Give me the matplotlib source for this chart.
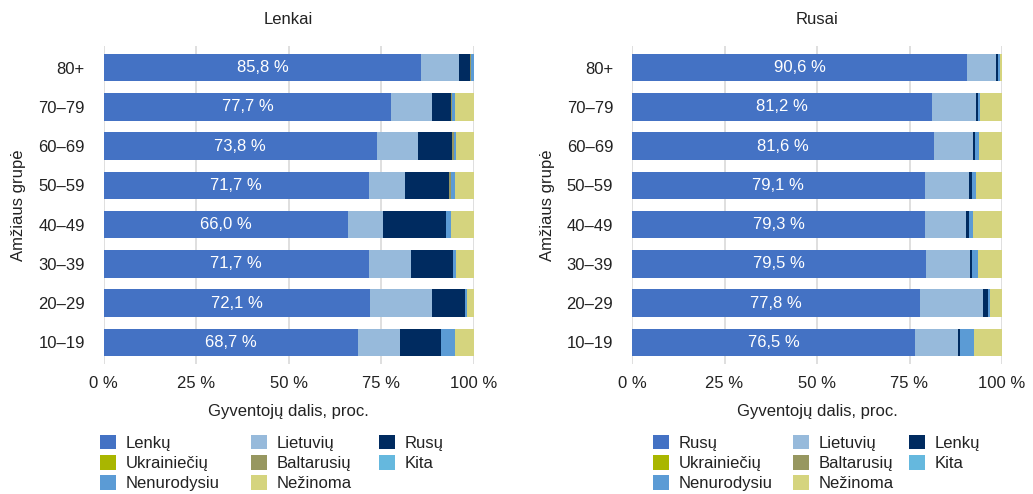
import matplotlib
matplotlib.use("Agg")
import matplotlib.pyplot as plt
from matplotlib.patches import Patch

plt.rcParams['font.family'] = ['Liberation Sans', 'DejaVu Sans']
plt.rcParams['font.size'] = 12
plt.rcParams['text.color'] = '#222222'

# ---------------- data (top row first) ----------------
age_groups = ["80+", "70–79", "60–69", "50–59", "40–49", "30–39", "20–29", "10–19"]

# Panel "Lenkai"
lk_lenku       = [85.8, 77.7, 73.8, 71.7, 66.0, 71.7, 72.1, 68.7]
lk_lietuviu    = [10.2, 11.0, 11.1, 9.7, 9.5, 11.4, 16.6, 11.4]
lk_rusu        = [3.0, 5.2, 9.2, 11.9, 17.0, 11.3, 8.9, 11.1]
lk_ukrainieciu = [0.0, 0.0, 0.0, 0.0, 0.0, 0.0, 0.0, 0.0]
lk_baltarusiu  = [0.3, 0.2, 0.5, 0.6, 0.0, 0.0, 0.0, 0.0]
lk_kita        = [0.0, 0.0, 0.0, 0.0, 0.0, 0.0, 0.0, 0.0]
lk_nenurodysiu = [0.7, 0.8, 0.5, 1.0, 1.4, 0.8, 0.6, 3.7]
lk_nezinoma    = [0.0, 5.1, 4.9, 5.1, 6.1, 4.8, 1.8, 5.1]

# Panel "Rusai"
rs_rusu        = [90.6, 81.2, 81.6, 79.1, 79.3, 79.5, 77.8, 76.5]
rs_lietuviu    = [7.8, 11.8, 10.6, 12.0, 11.0, 11.9, 17.1, 11.6]
rs_lenku       = [0.5, 0.5, 0.5, 0.8, 0.8, 0.5, 1.3, 0.6]
rs_ukrainieciu = [0.0, 0.0, 0.0, 0.0, 0.0, 0.0, 0.0, 0.0]
rs_baltarusiu  = [0.0, 0.0, 0.0, 0.0, 0.0, 0.0, 0.0, 0.0]
rs_kita        = [0.0, 0.0, 0.0, 0.0, 0.0, 0.0, 0.0, 0.0]
rs_nenurodysiu = [0.6, 0.6, 1.1, 1.1, 1.1, 1.6, 0.6, 3.8]
rs_nezinoma    = [0.5, 5.9, 6.2, 7.0, 7.8, 6.5, 3.2, 7.5]

lk_names = ["Lenkų", "Lietuvių", "Rusų", "Ukrainiečių", "Baltarusių", "Kita", "Nenurodysiu", "Nežinoma"]
rs_names = ["Rusų", "Lietuvių", "Lenkų", "Ukrainiečių", "Baltarusių", "Kita", "Nenurodysiu", "Nežinoma"]

x_ticks = [0, 25, 50, 75, 100]
x_tick_labels = ["0 %", "25 %", "50 %", "75 %", "100 %"]

colors = ["#4472C4", "#97BADB", "#002B60", "#A9B600", "#979760",
          "#65B8DE", "#5B9BD5", "#D5D47E"]

W, H = 1033, 494
fig = plt.figure(figsize=(W / 100, H / 100), dpi=100)


def panel(left_px, title, series, names):
    ax = fig.add_axes([left_px / W, 1 - 364 / H, 370 / W, 318 / H])
    ypos = list(range(len(age_groups)))
    cum = [0.0] * len(age_groups)
    handles = []
    for vals, col, name in zip(series, colors, names):
        ax.barh(ypos, vals, left=cum, height=0.7, color=col, linewidth=0, zorder=2)
        handles.append(Patch(facecolor=col, edgecolor='none', label=name))
        cum = [c + v for c, v in zip(cum, vals)]
    for y, v in zip(ypos, series[0]):
        ax.text(v / 2, y, f"{v:.1f} %".replace(".", ","), ha='center', va='center',
                color='white', fontsize=12, zorder=3)
    ax.set_xlim(0, 100)
    ax.set_ylim(len(age_groups) - 0.45, -0.55)
    ax.set_yticks(ypos)
    ax.set_yticklabels(age_groups)
    ax.set_xticks(x_ticks)
    ax.set_xticklabels(x_tick_labels)
    ax.tick_params(axis='y', length=0, pad=13.5, labelsize=12, labelcolor='#222222')
    ax.tick_params(axis='x', length=0, pad=8.5, labelsize=12, labelcolor='#222222')
    for s in ax.spines.values():
        s.set_visible(False)
    ax.grid(axis='x', color='#D9D9D9', linewidth=1.2, zorder=0)
    ax.set_axisbelow(True)
    ax.set_title(title, fontsize=12, pad=16, color='#222222')
    ax.set_xlabel("Gyventojų dalis, proc.", fontsize=12, color='#222222')
    ax.xaxis.set_label_coords(0.5, -(404 - 364) / 318)
    ax.set_ylabel("Amžiaus grupė", fontsize=12, color='#222222')
    ax.yaxis.set_label_coords((26 - left_px) / 370 if left_px < 500 else (555 - left_px) / 370, 0.5)
    return handles


def legend_block(handles, col_x_px, top_px=435):
    groups = [handles[0:3], handles[3:6], handles[6:8]]
    for grp, xp in zip(groups, col_x_px):
        fig.legend(handles=grp, loc='upper left', bbox_to_anchor=(xp / W, 1 - top_px / H),
                   frameon=False, fontsize=12, borderpad=0, borderaxespad=0,
                   handlelength=0.96, handleheight=0.96, handletextpad=0.6,
                   labelspacing=0.25, ncol=1)


lk_series = [lk_lenku, lk_lietuviu, lk_rusu, lk_ukrainieciu, lk_baltarusiu,
             lk_kita, lk_nenurodysiu, lk_nezinoma]
rs_series = [rs_rusu, rs_lietuviu, rs_lenku, rs_ukrainieciu, rs_baltarusiu,
             rs_kita, rs_nenurodysiu, rs_nezinoma]

h1 = panel(103.7, "Lenkai", lk_series, lk_names)
h2 = panel(632, "Rusai", rs_series, rs_names)

# legend order: row-wise in the reference -> columns hold items 0,3,6 / 1,4,7 / 2,5
def reorder(h):
    return [h[0], h[3], h[6], h[1], h[4], h[7], h[2], h[5]]

legend_block(reorder(h1), [100, 251, 379])
legend_block(reorder(h2), [653, 793, 909])

fig.savefig("out.png", dpi=100)
